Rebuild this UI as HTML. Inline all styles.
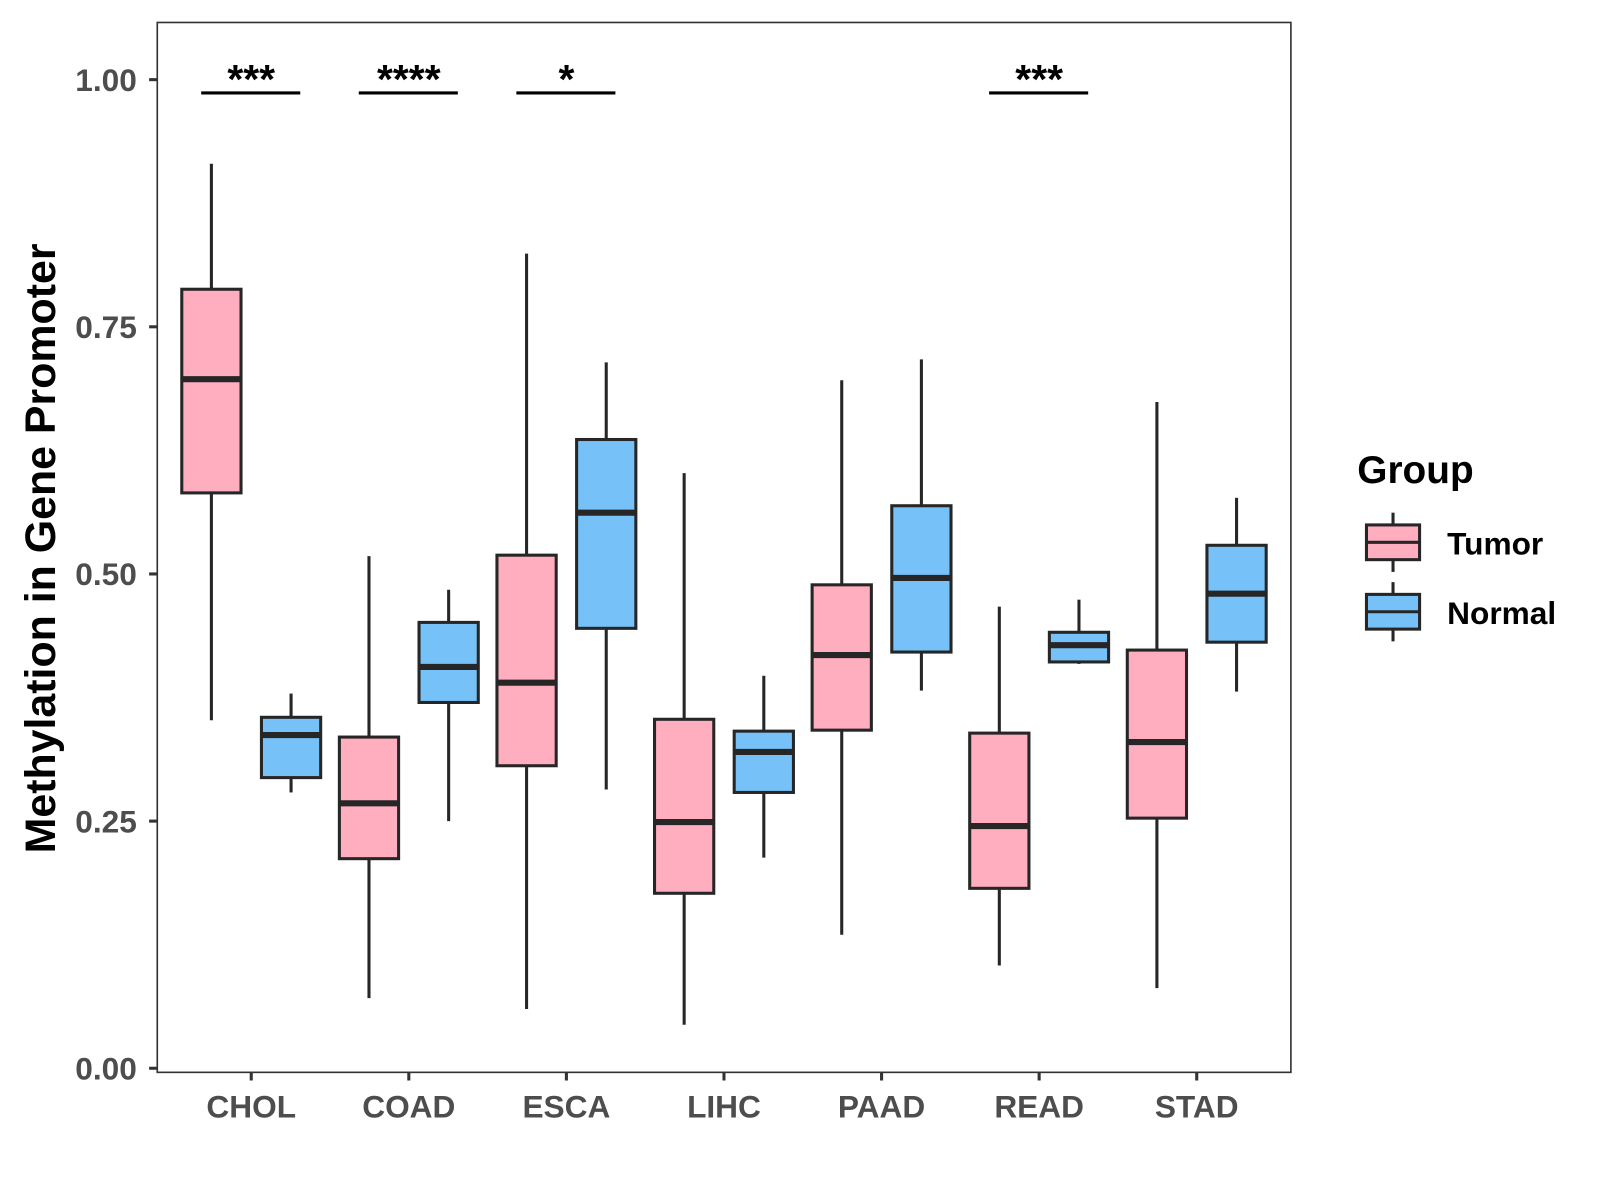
<!DOCTYPE html>
<html><head><meta charset="utf-8"><style>
html,body{margin:0;padding:0;background:#fff;}
svg{display:block;font-family:"Liberation Sans",Arial,sans-serif;}
</style></head><body>
<svg id="chart" width="1600" height="1200" viewBox="0 0 1566 1175" preserveAspectRatio="xMinYMin meet" xmlns="http://www.w3.org/2000/svg"></svg>
<script>
const categories = ["CHOL","COAD","ESCA","LIHC","PAAD","READ","STAD"];
// [low, q1, median, q3, high]
const tumorStats = [
  [0.352,0.582,0.697,0.788,0.915],
  [0.071,0.212,0.268,0.335,0.518],
  [0.060,0.306,0.390,0.519,0.824],
  [0.044,0.177,0.249,0.353,0.602],
  [0.135,0.342,0.418,0.489,0.696],
  [0.104,0.182,0.245,0.339,0.467],
  [0.081,0.253,0.330,0.423,0.674]
];
const normalStats = [
  [0.279,0.294,0.337,0.355,0.379],
  [0.250,0.370,0.406,0.451,0.484],
  [0.282,0.445,0.562,0.636,0.714],
  [0.213,0.279,0.320,0.341,0.397],
  [0.382,0.421,0.496,0.569,0.717],
  [0.409,0.411,0.428,0.441,0.474],
  [0.381,0.431,0.480,0.529,0.577]
];
const sigLabels = ["***","****","*","","","***",""];
const yTicks = [0,0.25,0.5,0.75,1.0];
const yTickLabels = ["0.00","0.25","0.50","0.75","1.00"];

const NS="http://www.w3.org/2000/svg";
const svg=document.getElementById('chart');
const P={l:154,r:1264,t:22,b:1050};
const y=v=>1046-v*968;
const x=i=>246+i*154.3;
function mk(tag,attrs,parent){const e=document.createElementNS(NS,tag);for(const k in attrs)e.setAttribute(k,attrs[k]);(parent||svg).appendChild(e);return e;}

const panel=mk('rect',{x:P.l,y:P.t,width:P.r-P.l,height:P.b-P.t,fill:'#fff',stroke:'#333','stroke-width':1.6});



yTicks.forEach((v,i)=>{
  const g=mk('g',{});
  
  
  mk('line',{x1:P.l-8,x2:P.l,y1:y(v),y2:y(v),stroke:'#333','stroke-width':3},g);
  const t=mk('text',{x:P.l-20,y:y(v)+11,'text-anchor':'end','font-size':31,'font-weight':'bold',fill:'#4d4d4d'},g);
  t.textContent=yTickLabels[i];
});
categories.forEach((c,i)=>{
  const g=mk('g',{});
  
  
  mk('line',{x1:x(i),x2:x(i),y1:P.b,y2:P.b+8,stroke:'#333','stroke-width':3},g);
  const t=mk('text',{x:x(i),y:P.b+44,'text-anchor':'middle','font-size':31,'font-weight':'bold',fill:'#4d4d4d'},g);
  t.textContent=c;
});

function box(i,s,off,fill,name){
  const cx=x(i)+off, hw=29;
  const g=mk('g',{});
  
  
  mk('line',{x1:cx,x2:cx,y1:y(s[4]),y2:y(s[3]),stroke:'#262626','stroke-width':3},g);
  mk('line',{x1:cx,x2:cx,y1:y(s[1]),y2:y(s[0]),stroke:'#262626','stroke-width':3},g);
  mk('rect',{x:cx-hw,y:y(s[3]),width:2*hw,height:y(s[1])-y(s[3]),fill:fill,stroke:'#262626','stroke-width':3},g);
  mk('line',{x1:cx-hw,x2:cx+hw,y1:y(s[2]),y2:y(s[2]),stroke:'#262626','stroke-width':6},g);
}
categories.forEach((c,i)=>{
  box(i,tumorStats[i],-39,'#FFAEC0','box-tumor-'+c.toLowerCase());
  box(i,normalStats[i],39,'#76C2F8','box-normal-'+c.toLowerCase());
  if(sigLabels[i]){
    const g=mk('g',{});
    
    
    mk('line',{x1:x(i)-49,x2:x(i)+48,y1:91,y2:91,stroke:'#000','stroke-width':3},g);
    const t=mk('text',{x:x(i),y:91,'text-anchor':'middle','font-size':40,'font-weight':'bold',fill:'#000'},g);
    t.textContent=sigLabels[i];
  }
});

const yt=mk('text',{x:0,y:0,transform:'translate(54,537) rotate(-90)','text-anchor':'middle','font-size':42,'font-weight':'bold',fill:'#000'});


yt.textContent='Methylation in Gene Promoter';

const lg=mk('g',{});


const lt=mk('text',{x:1329,y:473,'font-size':38,'font-weight':'bold',fill:'#000'},lg);
lt.textContent='Group';
[['Tumor','#FFAEC0',514],['Normal','#76C2F8',582]].forEach(([n,f,ty])=>{
  const e=mk('g',{},lg);
  
  
  mk('line',{x1:1364,x2:1364,y1:ty-12,y2:ty+46,stroke:'#262626','stroke-width':3},e);
  mk('rect',{x:1338,y:ty,width:52,height:34,fill:f,stroke:'#262626','stroke-width':3},e);
  mk('line',{x1:1338,x2:1390,y1:ty+17,y2:ty+17,stroke:'#262626','stroke-width':3},e);
  const t=mk('text',{x:1417,y:ty+29,'font-size':31,'font-weight':'bold',fill:'#000'},e);
  t.textContent=n;
});
</script>
</body></html>
